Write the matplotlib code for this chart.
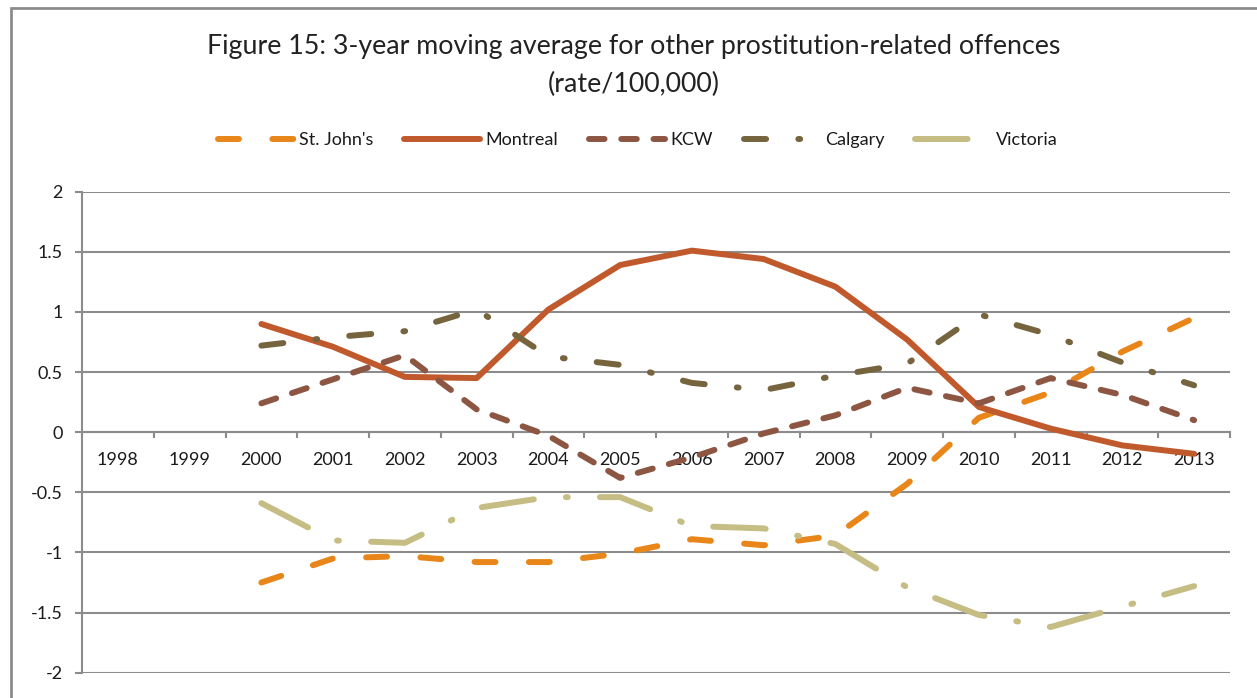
import matplotlib
matplotlib.use('Agg')
import matplotlib.pyplot as plt

# ---------------- data ----------------
categories = [str(y) for y in range(1998, 2014)]
data_start_index = 2  # series start at 2000
st_johns = [-1.25, -1.05, -1.03, -1.08, -1.08, -1.01, -0.89, -0.94, -0.86, -0.43, 0.12, 0.33, 0.67, 0.95]
montreal = [0.90, 0.71, 0.46, 0.45, 1.02, 1.39, 1.51, 1.44, 1.21, 0.77, 0.21, 0.03, -0.11, -0.18]
kcw = [0.24, 0.44, 0.64, 0.19, -0.03, -0.38, -0.21, -0.01, 0.14, 0.37, 0.24, 0.45, 0.31, 0.10]
calgary = [0.72, 0.79, 0.84, 1.02, 0.63, 0.56, 0.41, 0.35, 0.47, 0.57, 0.98, 0.81, 0.58, 0.39]
victoria = [-0.59, -0.90, -0.92, -0.63, -0.54, -0.54, -0.78, -0.80, -0.93, -1.29, -1.52, -1.62, -1.45, -1.28]
y_ticks = [-2, -1.5, -1, -0.5, 0, 0.5, 1, 1.5, 2]
y_tick_labels = ['-2', '-1.5', '-1', '-0.5', '0', '0.5', '1', '1.5', '2']
series_names = ["St. John's", 'Montreal', 'KCW', 'Calgary', 'Victoria']
title = 'Figure 15: 3-year moving average for other prostitution-related offences\n(rate/100,000)'

# ---------------- style ----------------
FONT = 'Lato'
plt.rcParams['font.family'] = [FONT, 'DejaVu Sans']
GRID = '#8c8c8c'
TXT = '#1a1a1a'
LW = 4.3
colors = ['#e8861a', '#c05a2c', '#8c5643', '#76643f', '#c5bd83']
dashes = [
    (0, (3.5, 5.6)),                  # long dash
    None,                              # solid
    (0, (2.6, 2.8)),                   # dash
    (0, (3.7, 5.4, 0.3, 5.4)),         # long dash dot
    (0, (8.8, 5.4, 0.3, 5.4)),         # long dash dot (longer)
]

W, H = 1257, 698
fig = plt.figure(figsize=(W / 100, H / 100), dpi=100)
ax = fig.add_axes([82 / W, 1 - 672.7 / H, (1230 - 82) / W, (672.7 - 191.7) / H])

xs = list(range(data_start_index, data_start_index + len(montreal)))
all_series = [st_johns, montreal, kcw, calgary, victoria]
handles = []
for vals, name, c, d in zip(all_series, series_names, colors, dashes):
    if d is None:
        ln, = ax.plot(xs, vals, color=c, lw=LW, solid_capstyle='round',
                      solid_joinstyle='round', label=name, zorder=3)
    else:
        ln, = ax.plot(xs, vals, color=c, lw=LW, linestyle=d, dash_capstyle='round',
                      dash_joinstyle='round', label=name, zorder=3)
    handles.append(ln)

ax.set_xlim(-0.5, len(categories) - 0.5)
ax.set_ylim(-2, 2)

# y axis
ax.set_yticks(y_ticks)
ax.set_yticklabels(y_tick_labels)
ax.yaxis.grid(True, color=GRID, lw=1.5)
ax.set_axisbelow(True)

# x axis crossing at 0
for s in ['top', 'right']:
    ax.spines[s].set_visible(False)
ax.spines['bottom'].set_position(('data', 0))
ax.spines['bottom'].set_color(GRID)
ax.spines['bottom'].set_linewidth(1.5)
ax.spines['left'].set_color(GRID)
ax.spines['left'].set_linewidth(1.5)
ax.spines['bottom'].set_zorder(2)

ax.set_xticks(range(len(categories)))
ax.set_xticklabels(categories)
ax.set_xticks([i - 0.5 for i in range(len(categories) + 1)], minor=True)
ax.tick_params(axis='x', which='major', length=0, pad=14, labelsize=13, labelcolor=TXT)
ax.tick_params(axis='x', which='minor', length=4, width=1.5, color=GRID, direction='out')
ax.tick_params(axis='y', which='major', length=5, width=1.5, color=GRID, direction='out',
               pad=9, labelsize=13, labelcolor=TXT)

# title
fig.text(634 / W, 1 - 65.5 / H, title, ha='center', va='center', fontsize=19.3,
         color='#222222', linespacing=1.6)

# legend
fig.legend(handles=handles, loc='center', bbox_to_anchor=(638 / W, 1 - 140 / H), ncol=5,
           frameon=False, fontsize=13, handlelength=4.2, handletextpad=0.3,
           columnspacing=1.7, labelcolor=TXT)

# chart border (extends past right/bottom edge)
fig.patches.append(plt.Rectangle((11 / W, -0.1), 1.2, 1 - 8.5 / H + 0.1,
                                 transform=fig.transFigure, fill=False,
                                 edgecolor=GRID, lw=2.0))

fig.savefig('out.png', dpi=100)
